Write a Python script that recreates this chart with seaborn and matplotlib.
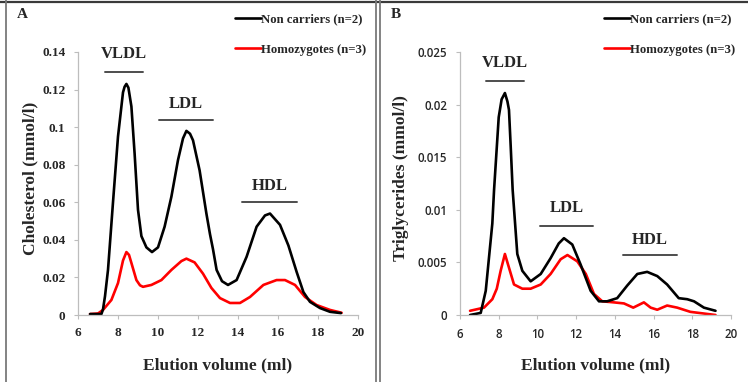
import numpy as np
import pandas as pd
import matplotlib
matplotlib.use("Agg")
import matplotlib.pyplot as plt
import seaborn as sns
from matplotlib.lines import Line2D
from matplotlib.font_manager import FontProperties

# ==========================
# DATA
# ==========================

NON = "Non carriers (n=2)"
HOMO = "Homozygotes (n=3)"

# Panel A - cholesterol (mmol/l)
chol_non_x = [6.6, 7.17, 7.25, 7.35, 7.5, 7.75, 8.0, 8.25, 8.33, 8.42, 8.52, 8.67, 8.83, 9.0,
              9.17, 9.42, 9.7, 10.0, 10.33, 10.67, 11.0, 11.25, 11.42, 11.6, 11.75, 12.08,
              12.42, 12.6, 12.75, 12.93, 13.2, 13.5, 13.93, 14.43, 14.93, 15.35, 15.6, 16.1,
              16.52, 16.93, 17.27, 17.6, 18.1, 18.6, 19.15]
chol_non_y = [0.0005, 0.0005, 0.003, 0.010, 0.024, 0.060, 0.095, 0.1185, 0.1215, 0.123, 0.121,
              0.111, 0.086, 0.056, 0.042, 0.036, 0.0335, 0.036, 0.047, 0.063, 0.0825, 0.094,
              0.098, 0.0965, 0.093, 0.077, 0.054, 0.043, 0.035, 0.024, 0.018, 0.016, 0.0186,
              0.031, 0.047, 0.053, 0.054, 0.048, 0.037, 0.023, 0.0122, 0.007, 0.0037, 0.0017,
              0.001]

chol_homo_x = [6.6, 7.0, 7.25, 7.67, 8.0, 8.25, 8.42, 8.55, 8.67, 8.92, 9.1, 9.25, 9.67, 10.17,
               10.67, 11.17, 11.42, 11.83, 12.25, 12.67, 13.1, 13.6, 14.1, 14.6, 15.27, 15.93,
               16.35, 16.85, 17.35, 17.93, 18.6, 19.18]
chol_homo_y = [0.0005, 0.0008, 0.0027, 0.008, 0.017, 0.029, 0.0335, 0.032, 0.0277, 0.0186,
               0.0158, 0.015, 0.016, 0.0186, 0.024, 0.0287, 0.030, 0.028, 0.022, 0.0144, 0.009,
               0.0064, 0.0064, 0.0096, 0.016, 0.0186, 0.0186, 0.016, 0.0096, 0.0053, 0.0027,
               0.0012]

# Panel B - triglycerides (mmol/l)
tg_non_x = [6.52, 7.07, 7.33, 7.67, 7.76, 8.0, 8.15, 8.32, 8.45, 8.53, 8.62, 8.72, 8.96, 9.22,
            9.65, 10.17, 10.68, 11.1, 11.37, 11.8, 12.23, 12.75, 13.18, 13.6, 14.12, 14.64,
            15.16, 15.67, 16.19, 16.7, 17.3, 17.74, 18.09, 18.6, 19.2]
tg_non_y = [0.0, 0.0002, 0.0023, 0.0087, 0.0119, 0.0188, 0.0205, 0.0211, 0.0203, 0.0195,
            0.016, 0.0119, 0.0058, 0.0042, 0.0032, 0.0039, 0.0054, 0.0068, 0.0073, 0.0067,
            0.0048, 0.0023, 0.0013, 0.0013, 0.0016, 0.0028, 0.0039, 0.0041, 0.0037, 0.0029,
            0.0016, 0.0015, 0.0013, 0.0007, 0.0004]

tg_homo_x = [6.52, 7.24, 7.67, 7.9, 8.1, 8.32, 8.53, 8.79, 9.22, 9.65, 10.17, 10.68, 11.2,
             11.55, 12.06, 12.5, 12.92, 13.35, 13.95, 14.47, 14.95, 15.5, 15.85, 16.19, 16.7,
             17.22, 17.9, 18.77, 19.2]
tg_homo_y = [0.0004, 0.0007, 0.0015, 0.0025, 0.0042, 0.0058, 0.0045, 0.0029, 0.0025, 0.0025,
             0.0029, 0.0039, 0.0053, 0.0057, 0.0051, 0.0039, 0.0020, 0.0013, 0.0012, 0.0011,
             0.0007, 0.0012, 0.0007, 0.0005, 0.0009, 0.0007, 0.0003, 0.0001, 0.0]

# fraction labels: (name, start ml, end ml, bar height, text height)
chol_fractions = [("VLDL", 7.35, 9.25, 0.1295, 0.139),
                  ("LDL", 10.05, 12.75, 0.104, 0.1125),
                  ("HDL", 14.2, 16.95, 0.060, 0.0685)]
tg_fractions = [("VLDL", 7.33, 9.31, 0.0222, 0.0240),
                ("LDL", 10.12, 12.87, 0.0085, 0.0102),
                ("HDL", 14.43, 17.22, 0.0057, 0.0071)]

x_ticks = [6, 8, 10, 12, 14, 16, 18, 20]
chol_ticks = [0, 0.02, 0.04, 0.06, 0.08, 0.1, 0.12, 0.14]
chol_tick_labels = ["0", "0.02", "0.04", "0.06", "0.08", "0.1", "0.12", "0.14"]
tg_ticks = [0, 0.005, 0.01, 0.015, 0.02, 0.025]
tg_tick_labels = ["0", "0.005", "0.01", "0.015", "0.02", "0.025"]


def long_df(non_x, non_y, homo_x, homo_y):
    a = pd.DataFrame({"volume": non_x, "value": non_y, "group": NON})
    b = pd.DataFrame({"volume": homo_x, "value": homo_y, "group": HOMO})
    return pd.concat([a, b], ignore_index=True)


df_chol = long_df(chol_non_x, chol_non_y, chol_homo_x, chol_homo_y)
df_tg = long_df(tg_non_x, tg_non_y, tg_homo_x, tg_homo_y)

# ==========================
# STYLE
# ==========================

sns.set_style("white")
plt.rcParams["font.family"] = ["Liberation Serif", "DejaVu Serif"]

palette = {NON: "black", HOMO: "#ff0000"}
W, H = 748, 382

fig = plt.figure(figsize=(W / 100, H / 100), dpi=100)
axA = fig.add_axes([78 / W, 1 - 315 / H, 280 / W, 263 / H])
axB = fig.add_axes([460 / W, 1 - 315 / H, 271 / W, 263 / H])


def draw_panel(ax, df, yticks, ylabels, ylim, ylabel, fractions, tick_font, ylab_x):
    sns.lineplot(data=df, x="volume", y="value", hue="group", palette=palette,
                 hue_order=[HOMO, NON], estimator=None, sort=False,
                 linewidth=1.9, legend=False, ax=ax,
                 solid_joinstyle="round", solid_capstyle="round")
    ax.set_xlim(6, 20)
    ax.set_ylim(*ylim)
    ax.set_xticks(x_ticks)
    ax.set_xticklabels([str(t) for t in x_ticks])
    ax.set_yticks(yticks)
    ax.set_yticklabels(ylabels)
    for lab in ax.get_xticklabels() + ax.get_yticklabels():
        lab.set_fontproperties(tick_font)
    sns.despine(ax=ax)
    for side in ["left", "bottom"]:
        ax.spines[side].set_color("#bdbdbd")
        ax.spines[side].set_linewidth(0.9)
    ax.tick_params(axis="both", which="major", direction="out", length=3, width=0.8,
                   color="#bdbdbd", bottom=True, left=True, pad=6)
    ax.set_xlabel("Elution volume (ml)", fontsize=12.5, fontweight="bold")
    ax.set_ylabel(ylabel, fontsize=12.5, fontweight="bold")
    ax.xaxis.set_label_coords(0.5, -0.16)
    ax.yaxis.set_label_coords(ylab_x, 0.52)
    for name, x0, x1, ybar, ytxt in fractions:
        ax.plot([x0, x1], [ybar, ybar], color="#4d4d4d", lw=1.4, clip_on=False)
        ax.text((x0 + x1) / 2, ytxt, name, ha="center", va="center",
                fontsize=12, fontweight="bold")


serif_tick = FontProperties(family=["Liberation Serif"], weight="bold", size=9.5)
sans_tick = FontProperties(family=["Open Sans"], weight="semibold", size=8.3)

draw_panel(axA, df_chol, chol_ticks, chol_tick_labels, (0, 0.14),
           "Cholesterol (mmol/l)", chol_fractions, serif_tick, -0.14)
draw_panel(axB, df_tg, tg_ticks, tg_tick_labels, (0, 0.025),
           "Triglycerides (mmol/l)", tg_fractions, sans_tick, -0.19)

# ==========================
# LEGENDS & PANEL LETTERS
# ==========================

handles = [Line2D([0], [0], color="black", lw=1.9),
           Line2D([0], [0], color="#ff0000", lw=1.9)]
for x_left in [235, 604]:
    fig.legend(handles, [NON, HOMO], loc="upper left",
               bbox_to_anchor=(x_left / W, 1 - 13 / H), frameon=False,
               prop={"weight": "bold", "size": 9.2}, handlelength=2.0,
               handletextpad=0.05, labelspacing=1.45, borderpad=0, borderaxespad=0)

fig.text(22 / W, 1 - 14 / H, "A", fontsize=11, fontweight="bold", ha="center", va="center")
fig.text(396 / W, 1 - 15 / H, "B", fontsize=11, fontweight="bold", ha="center", va="center")

# frame lines of the original layout
fig.add_artist(Line2D([0, 1], [1 - 1.5 / H] * 2, transform=fig.transFigure,
                      color="#3a3a3a", lw=1.6))
for xp in [6, 376, 380]:
    fig.add_artist(Line2D([xp / W] * 2, [0, 1], transform=fig.transFigure,
                          color="#7a7a7a", lw=1.3))

fig.savefig("out.png", dpi=100)
